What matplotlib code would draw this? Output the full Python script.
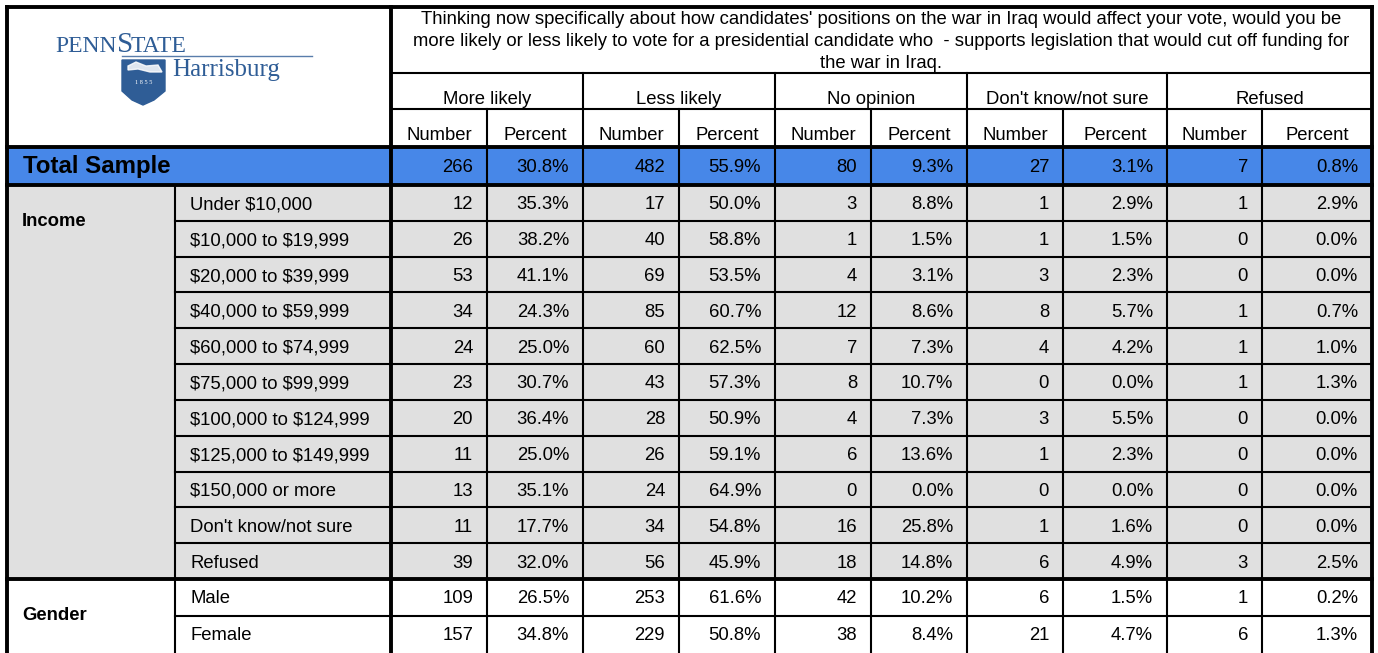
#!/usr/bin/env python3
# Penn State Harrisburg poll crosstab: cutting off Iraq war funding,
# by income and gender. Drawn as a table on a pixel-coordinate axes.

import numpy as np
import matplotlib
matplotlib.use("Agg")
import matplotlib.pyplot as plt
from matplotlib.patches import Rectangle, Polygon

plt.rcParams["font.family"] = ["Liberation Sans", "DejaVu Sans"]
plt.rcParams["text.parse_math"] = False  # dollar signs are literal

# ---------------------------------------------------------------------------
# Data
# ---------------------------------------------------------------------------

QUESTION = [
    "Thinking now specifically about how candidates' positions on the war in Iraq would affect your vote, would you be",
    "more likely or less likely to vote for a presidential candidate who  - supports legislation that would cut off funding for",
    "the war in Iraq.",
]
answer_groups = ["More likely", "Less likely", "No opinion",
                 "Don't know/not sure", "Refused"]

total_numbers = [266, 482, 80, 27, 7]
total_pcts = [30.8, 55.9, 9.3, 3.1, 0.8]

income_labels = [
    "Under $10,000", "$10,000 to $19,999", "$20,000 to $39,999",
    "$40,000 to $59,999", "$60,000 to $74,999", "$75,000 to $99,999",
    "$100,000 to $124,999", "$125,000 to $149,999", "$150,000 or more",
    "Don't know/not sure", "Refused",
]
income_numbers = [
    [12, 17, 3, 1, 1],
    [26, 40, 1, 1, 0],
    [53, 69, 4, 3, 0],
    [34, 85, 12, 8, 1],
    [24, 60, 7, 4, 1],
    [23, 43, 8, 0, 1],
    [20, 28, 4, 3, 0],
    [11, 26, 6, 1, 0],
    [13, 24, 0, 0, 0],
    [11, 34, 16, 1, 0],
    [39, 56, 18, 6, 3],
]
income_pcts = [
    [35.3, 50.0, 8.8, 2.9, 2.9],
    [38.2, 58.8, 1.5, 1.5, 0.0],
    [41.1, 53.5, 3.1, 2.3, 0.0],
    [24.3, 60.7, 8.6, 5.7, 0.7],
    [25.0, 62.5, 7.3, 4.2, 1.0],
    [30.7, 57.3, 10.7, 0.0, 1.3],
    [36.4, 50.9, 7.3, 5.5, 0.0],
    [25.0, 59.1, 13.6, 2.3, 0.0],
    [35.1, 64.9, 0.0, 0.0, 0.0],
    [17.7, 54.8, 25.8, 1.6, 0.0],
    [32.0, 45.9, 14.8, 4.9, 2.5],
]

gender_labels = ["Male", "Female"]
gender_numbers = [
    [109, 253, 42, 6, 1],
    [157, 229, 38, 21, 6],
]
gender_pcts = [
    [26.5, 61.6, 10.2, 1.5, 0.2],
    [34.8, 50.8, 8.4, 4.7, 1.3],
]

# ---------------------------------------------------------------------------
# Layout (pixels)
# ---------------------------------------------------------------------------

W, H = 1378, 653
LEFT, RIGHT, TOP = 7, 1372, 7
LABEL_SPLIT = 175
DATA_LEFT = 391
COL_EDGES = [391, 487, 583, 679, 775, 871, 967, 1063, 1167, 1262, 1372]
Y_QUESTION = 73
Y_GROUP = 109
Y_TOTAL = 147
Y_BODY = 185
Y_GENDER = 579
income_edges = np.linspace(Y_BODY, Y_GENDER, len(income_labels) + 1)
gender_edges = np.linspace(Y_GENDER, H, len(gender_labels) + 1)

BLUE = "#4787e8"
GRAY = "#e0e0e0"
LOGO = "#2f5d96"
SERIF = ["Liberation Serif", "DejaVu Serif"]
FS = 13.3
THICK = 2.8
THIN = 1.5
PAD = 14

fig = plt.figure(figsize=(W / 100, H / 100), dpi=100)
ax = fig.add_axes([0, 0, 1, 1])
ax.set_xlim(0, W)
ax.set_ylim(H, 0)
ax.axis("off")


def hline(y, x0, x1, lw):
    ax.plot([x0, x1], [y, y], color="black", lw=lw,
            solid_capstyle="projecting", zorder=5)


def vline(x, y0, y1, lw):
    ax.plot([x, x], [y0, y1], color="black", lw=lw,
            solid_capstyle="projecting", zorder=5)


# backgrounds
ax.add_patch(Rectangle((LEFT, Y_TOTAL), RIGHT - LEFT, Y_BODY - Y_TOTAL,
                       color=BLUE, zorder=1))
ax.add_patch(Rectangle((LEFT, Y_BODY), RIGHT - LEFT, Y_GENDER - Y_BODY,
                       color=GRAY, zorder=1))

# logo
ax.text(55, 52, "PENN", family=SERIF, fontsize=17, color=LOGO,
        va="baseline", ha="left")
ax.text(117, 52, "S", family=SERIF, fontsize=21, color=LOGO,
        va="baseline", ha="left")
ax.text(131, 52, "TATE", family=SERIF, fontsize=17, color=LOGO,
        va="baseline", ha="left")
ax.plot([122, 312], [56, 56], color=LOGO, lw=1.0, alpha=0.8)
shield = Polygon([(122, 60), (165, 60), (165, 91), (154, 100), (143, 105),
                  (132, 100), (122, 91)], closed=True, color=LOGO, zorder=3)
ax.add_patch(shield)
ax.add_patch(Polygon([(128, 66), (136, 62), (146, 66), (158, 65), (162, 72),
                      (150, 72), (138, 69), (128, 70)], closed=True,
                     color="white", alpha=0.85, zorder=4))
ax.text(143.5, 82, "1 8 5 5", fontsize=4.5, color="white", ha="center",
        va="center", family=SERIF, zorder=4)
ax.text(172, 76, "Harrisburg", family=SERIF, fontsize=18, color=LOGO,
        va="baseline", ha="left")

# question header
qx = (DATA_LEFT + RIGHT) / 2
for i, line in enumerate(QUESTION):
    ax.text(qx, 19 + i * 22.5, line, fontsize=FS, ha="center", va="center")

# group + sub headers
for g, name in enumerate(answer_groups):
    x0, x1 = COL_EDGES[2 * g], COL_EDGES[2 * g + 2]
    ax.text((x0 + x1) / 2, 99, name, fontsize=FS, ha="center", va="center")
    for k, sub in enumerate(["Number", "Percent"]):
        a, b = COL_EDGES[2 * g + k], COL_EDGES[2 * g + k + 1]
        ax.text((a + b) / 2, 135, sub, fontsize=FS, ha="center",
                va="center")


def data_row(yc, numbers, pcts):
    for g in range(len(answer_groups)):
        ax.text(COL_EDGES[2 * g + 1] - PAD, yc, f"{numbers[g]}",
                fontsize=FS, ha="right", va="center", zorder=6)
        ax.text(COL_EDGES[2 * g + 2] - PAD, yc, f"{pcts[g]:.1f}%",
                fontsize=FS, ha="right", va="center", zorder=6)


# total row
y_tot = (Y_TOTAL + Y_BODY) / 2
ax.text(23, y_tot + 1, "Total Sample", fontsize=17.3, weight="bold",
        ha="left", va="center", zorder=6)
data_row(y_tot + 1, total_numbers, total_pcts)

# income rows
ax.text(22, 221, "Income", fontsize=FS, weight="bold", ha="left",
        va="center")
for i, lab in enumerate(income_labels):
    yc = (income_edges[i] + income_edges[i + 1]) / 2 + 2
    ax.text(LABEL_SPLIT + 15, yc, lab, fontsize=FS, ha="left", va="center")
    data_row(yc, income_numbers[i], income_pcts[i])

# gender rows
ax.text(22, 615, "Gender", fontsize=FS, weight="bold", ha="left",
        va="center")
for i, lab in enumerate(gender_labels):
    yc = (gender_edges[i] + gender_edges[i + 1]) / 2 + 1
    ax.text(LABEL_SPLIT + 15, yc, lab, fontsize=FS, ha="left", va="center")
    data_row(yc, gender_numbers[i], gender_pcts[i])

# grid lines
hline(Y_QUESTION, DATA_LEFT, RIGHT, THIN)
hline(Y_GROUP, DATA_LEFT, RIGHT, THIN)
for y in list(income_edges[1:-1]) + list(gender_edges[1:-1]):
    hline(y, LABEL_SPLIT, RIGHT, THIN)
for j, x in enumerate(COL_EDGES[1:-1], start=1):
    y_start = Y_QUESTION if j % 2 == 0 else Y_GROUP
    vline(x, y_start, H, THIN)
vline(LABEL_SPLIT, Y_BODY, H, THIN)

for y in [Y_TOTAL, Y_BODY, Y_GENDER]:
    hline(y, LEFT, RIGHT, THICK)
hline(TOP, LEFT, RIGHT, THICK)
vline(LEFT, TOP, H, THICK)
vline(RIGHT, TOP, H, THICK)
vline(DATA_LEFT, TOP, H, THICK)

fig.savefig("out.png", dpi=100)
